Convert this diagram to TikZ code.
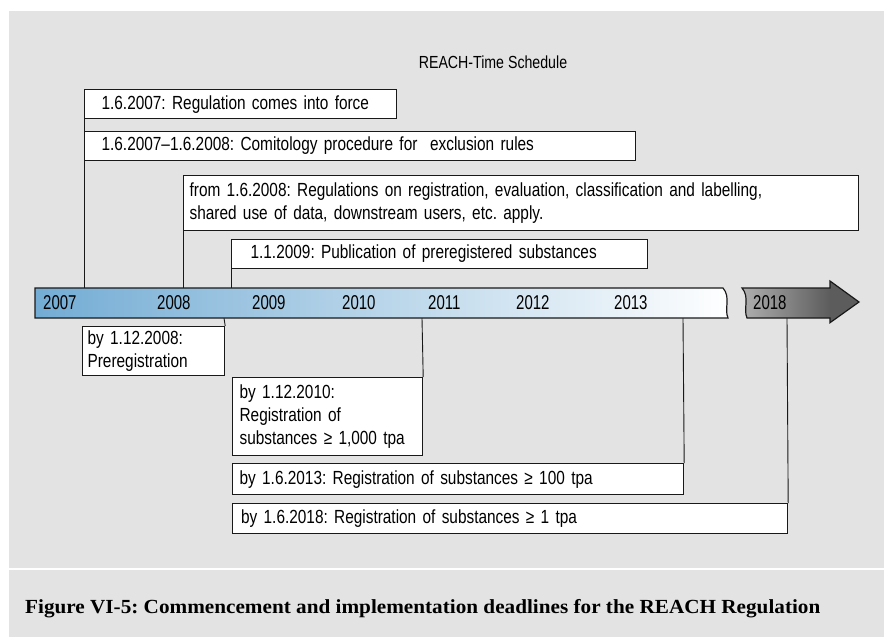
\documentclass[tikz,border=0pt]{standalone}
\usepackage{fontspec}
\newfontfamily\boxfont[FakeStretch=0.81]{Liberation Sans}
\newfontfamily\yearfont[FakeStretch=0.75]{Liberation Sans}
\newfontfamily\capfont[FakeStretch=1.06]{Liberation Serif}
\definecolor{panel}{RGB}{226,227,226}
\definecolor{barblue}{RGB}{115,172,212}
\definecolor{linec}{RGB}{25,25,25}
\definecolor{arrlight}{RGB}{175,175,175}
\definecolor{arrdark}{RGB}{92,92,92}
\tikzset{
  evbox/.style={draw=linec, line width=1.2pt, fill=white, anchor=north west, align=left,
    font=\boxfont\fontsize{19}{23}\selectfont, inner ysep=0pt},
  conn/.style={draw=linec, line width=0.9pt},
  yearlbl/.style={font=\yearfont\fontsize{20}{24}\selectfont, anchor=west, inner sep=0pt, text=black},
}
\frenchspacing
\begin{document}
\begin{tikzpicture}[x=1pt,y=-1pt]
\useasboundingbox (0,0) rectangle (884,637);
\fill[white] (0,0) rectangle (884,637);
\fill[panel] (9,11) rectangle (884,567.5);
\fill[panel] (9,569.5) rectangle (884,637);

% title
\node[font=\boxfont\fontsize{17.5}{20}\selectfont] (title) at (493,62) {REACH-Time Schedule};

% coordinates on the time bar
\coordinate (t84) at (84,288);
\coordinate (t183) at (183,288);
\coordinate (t231) at (231,288);
\coordinate (u224) at (224,318);
\coordinate (u422) at (422,318);
\coordinate (u683) at (683,318);
\coordinate (u787) at (787,318);

% boxes
\node[evbox, minimum width=312pt, minimum height=29pt, inner xsep=17pt, text width=278pt] (b1) at (84,89)
  {1.6.2007: Regulation comes into force};
\node[evbox, minimum width=551pt, minimum height=28.5pt, inner xsep=17pt, text width=517pt] (b2) at (84,131)
  {1.6.2007–1.6.2008: Comitology procedure for \ exclusion rules};
\node[evbox, minimum width=675pt, minimum height=55pt, inner xsep=6pt, text width=663pt] (b3) at (183,175)
  {from 1.6.2008: Regulations on registration, evaluation, classification and labelling,\\shared use of data, downstream users, etc. apply.};
\node[evbox, minimum width=416pt, minimum height=29pt, inner xsep=19pt, text width=378pt] (b4) at (231,238.5)
  {1.1.2009: Publication of preregistered substances};
\node[evbox, minimum width=142pt, minimum height=49pt, inner xsep=5pt, text width=132pt] (pre) at (82,326)
  {by 1.12.2008:\\Preregistration};
\node[evbox, minimum width=190pt, minimum height=78pt, inner xsep=7pt, text width=176pt] (b5) at (232,377)
  {by 1.12.2010:\\Registration of\\substances ≥ 1,000 tpa};
\node[evbox, minimum width=451pt, minimum height=31pt, inner xsep=7pt, text width=437pt] (b6) at (232,463)
  {by 1.6.2013: Registration of substances ≥ 100 tpa};
\node[evbox, minimum width=555pt, minimum height=30pt, inner xsep=8.5pt, text width=538pt] (b7) at (232,503)
  {by 1.6.2018: Registration of substances ≥ 1 tpa};

% connectors
\draw[conn] (b1.south west) -- (b2.north west);
\draw[conn] (b2.south west) -- (t84);
\draw[conn] (b3.south west) -- (t183);
\draw[conn] (b4.south west) -- (t231);
\draw[conn] (u224) -- (pre.north east);
\draw[conn] (u422) -- (b5.north east);
\draw[conn] (u683) -- (b6.north east);
\draw[conn] (u787) -- (b7.north east);

% time bar
\shade[left color=barblue, right color=white] (35,288) -- (723,288) .. controls (731,297) and (724,309) .. (728,318) -- (35,318) -- cycle;
\draw[linec, line width=1.2pt] (35,288) -- (723,288) .. controls (731,297) and (724,309) .. (728,318) -- (35,318) -- cycle;

% 2018 arrow
\shade[left color=arrlight, right color=arrdark] (742,288) .. controls (750,297) and (743,309) .. (747,318) -- (830,318) -- (830,288) -- cycle;
\fill[arrdark] (830,281) -- (859,302) -- (830,322.7) -- cycle;
\draw[linec, line width=1.2pt] (742,288) .. controls (750,297) and (743,309) .. (747,318) -- (830,318) -- (830,322.7) -- (859,302) -- (830,281) -- (830,288) -- cycle;

% year labels
\node[yearlbl] (y2007) at (43,303) {2007};
\node[yearlbl] (y2008) at (157,303) {2008};
\node[yearlbl] (y2009) at (252,303) {2009};
\node[yearlbl] (y2010) at (342,303) {2010};
\node[yearlbl] (y2011) at (428,303) {2011};
\node[yearlbl] (y2012) at (516,303) {2012};
\node[yearlbl] (y2013) at (614,303) {2013};
\node[yearlbl] (y2018) at (753,303) {2018};

% caption
\node[anchor=base west, inner sep=0pt, font=\capfont\bfseries\fontsize{20}{24}\selectfont] (cap) at (25,613)
  {Figure VI-5: Commencement and implementation deadlines for the REACH Regulation};
\end{tikzpicture}
\end{document}
